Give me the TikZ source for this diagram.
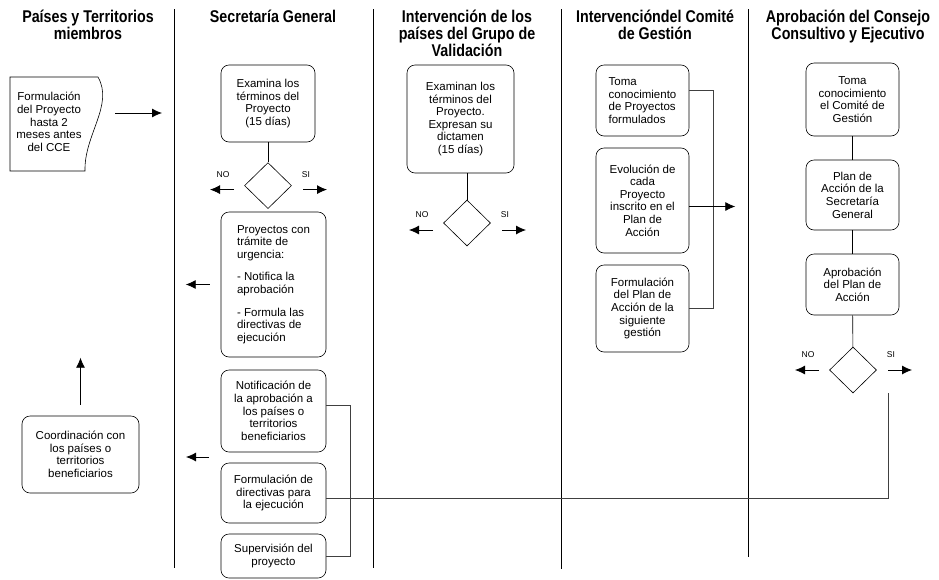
\documentclass[tikz,border=0pt]{standalone}
\usepackage{fontspec}
\setmainfont{Liberation Sans}
\newfontfamily\headfont{Liberation Sans}[FakeStretch=0.84]
\usepackage{tikz}
\usetikzlibrary{positioning}
\usetikzlibrary{shapes,arrows,arrows.meta}

\newcommand{\cuerpo}{\fontsize{11.5}{12.6}\selectfont}

\tikzset{
	caja/.style={draw, rounded corners=8pt, align=center, inner sep=2pt, font=\cuerpo},
	decision/.style={diamond, draw, minimum width=47pt, minimum height=46pt, inner sep=0pt},
	encabezado/.style={anchor=north, align=center, inner sep=0pt, font=\headfont\bfseries\fontsize{17}{17}\selectfont},
	flecha/.style={-{Latex[length=10pt,width=9pt]}, line width=0.8pt},
	conector/.style={draw=black!75},
	etiqueta/.style={font=\fontsize{8.5}{9}\selectfont, inner sep=0pt}
}

\begin{document}
\begin{tikzpicture}[x=1pt, y=-1pt, inner sep=0.4mm, line width=0.6pt]
		\useasboundingbox (0,0) rectangle (939,579);

		\foreach \x/\b in {174/568, 373/568, 561/569, 748/557}
			\draw (\x,9) -- (\x,\b);

		\node[encabezado] (h1) at (88,10) {Países y Territorios\\miembros};
		\node[encabezado] (h2) at (273,10) {Secretaría General};
		\node[encabezado] (h3) at (467,10) {Intervención de los\\países del Grupo de\\Validación};
		\node[encabezado] (h4) at (655,10) {Intervencióndel Comité\\de Gestión};
		\node[encabezado] (h5) at (848,10) {Aprobación del Consejo\\Consultivo y Ejecutivo};

		\node[align=center, font=\cuerpo, inner sep=0pt] (formu) at (49,122) {Formulación\\del Proyecto\\hasta 2\\meses antes\\del CCE};
		\draw (10,77) -- (98,77) .. controls (114,105) and (84,135) .. (85,171) -- (10,171) -- cycle;
		\coordinate (a1s) at (115,113);
		\coordinate (a1e) at (162,113);
		\draw[flecha] (a1s) -- (a1e);

		\node[caja, minimum width=117pt, minimum height=77pt] (coord) at (80.5,454.5) {Coordinación con\\los países o\\territorios\\beneficiarios};
		\draw[flecha] ([yshift=11pt]coord.north) -- ++(0,-47);

		\node[caja, minimum width=94pt, minimum height=77pt] (exam) at (268,103.5) {Examina los\\términos del\\Proyecto\\(15 días)};
		\node[decision, below=20pt of exam] (d2) {};
		\draw (exam) -- (d2);

		\node[caja, minimum width=105pt, minimum height=145pt, align=left] (urg) at (273.5,284.5) {Proyectos con\\trámite de\\urgencia:\\[10pt]- Notifica la\\aprobación\\[10pt]- Formula las\\directivas de\\ejecución};
		\draw[flecha] ([xshift=-11pt]urg.west) -- ++(-24,0);

		\node[caja, minimum width=105pt, minimum height=82pt] (notif) at (273.5,411) {Notificación de\\la aprobación a\\los países o\\territorios\\beneficiarios};
		\node[caja, minimum width=105pt, minimum height=60pt] (form) at (273.5,493) {Formulación de\\directivas para\\la ejecución};
		\node[caja, minimum width=105pt, minimum height=44pt] (sup) at (273.5,556) {Supervisión del\\proyecto};
		\coordinate (a2s) at (209,457);
		\draw[flecha] (a2s) -- ++(-23,0);
		\draw[conector] ([yshift=6pt]notif.east) -- ++(24,0) |- (sup.east);

		\node[caja, minimum width=107pt, minimum height=108pt] (exam2) at (460.5,119) {Examinan los\\términos del\\Proyecto.\\Expresan su\\dictamen\\(15 días)};
		\node[decision] (d3) at (467,223) {};
		\draw (d3.north) -- (d3.north |- exam2.south);

		\node[caja, minimum width=93pt, minimum height=71pt, align=left] (toma) at (642.5,100.5) {Toma\\conocimiento\\de Proyectos\\formulados};
		\node[caja, minimum width=93pt, minimum height=105pt] (evol) at (642.5,200.5) {Evolución de\\cada\\Proyecto\\inscrito en el\\Plan de\\Acción};
		\node[caja, minimum width=93pt, minimum height=87pt] (formplan) at (642.5,308.5) {Formulación\\del Plan de\\Acción de la\\siguiente\\gestión};
		\draw[conector] ([yshift=10pt]toma.east) -- ++(24,0) |- (formplan.east);
		\draw[flecha] ([yshift=-6pt]evol.east) -- ++(46,0);

		\node[caja, minimum width=93pt, minimum height=73pt] (tc) at (852.5,99.5) {Toma\\conocimiento\\el Comité de\\Gestión};
		\node[caja, minimum width=93pt, minimum height=70pt] (plan) at (852.5,195) {Plan de\\Acción de la\\Secretaría\\General};
		\node[caja, minimum width=93pt, minimum height=61pt] (aprob) at (852.5,284.5) {Aprobación\\del Plan de\\Acción};
		\node[decision] (d5) at (853,370) {};
		\draw (tc) -- (plan);
		\draw (plan) -- (aprob);
		\draw (aprob) -- (d5);
		\coordinate (siend) at (888,393);
		\draw[conector] ([yshift=-5pt]form.east) -| (siend);

		\foreach \d/\dy in {d2/4, d3/7, d5/0} {
			\draw[flecha] ([xshift=-34pt,yshift=-\dy]\d.center) -- ([xshift=-58pt,yshift=-\dy]\d.center);
			\draw[flecha] ([xshift=35pt,yshift=-\dy]\d.center) -- ([xshift=59pt,yshift=-\dy]\d.center);
			\node[etiqueta] (no-\d) at ([xshift=-45pt,yshift=-\dy+15]\d.center) {NO};
			\node[etiqueta] (si-\d) at ([xshift=38pt,yshift=-\dy+15]\d.center) {SI};
		}

		\end{tikzpicture}
\end{document}
